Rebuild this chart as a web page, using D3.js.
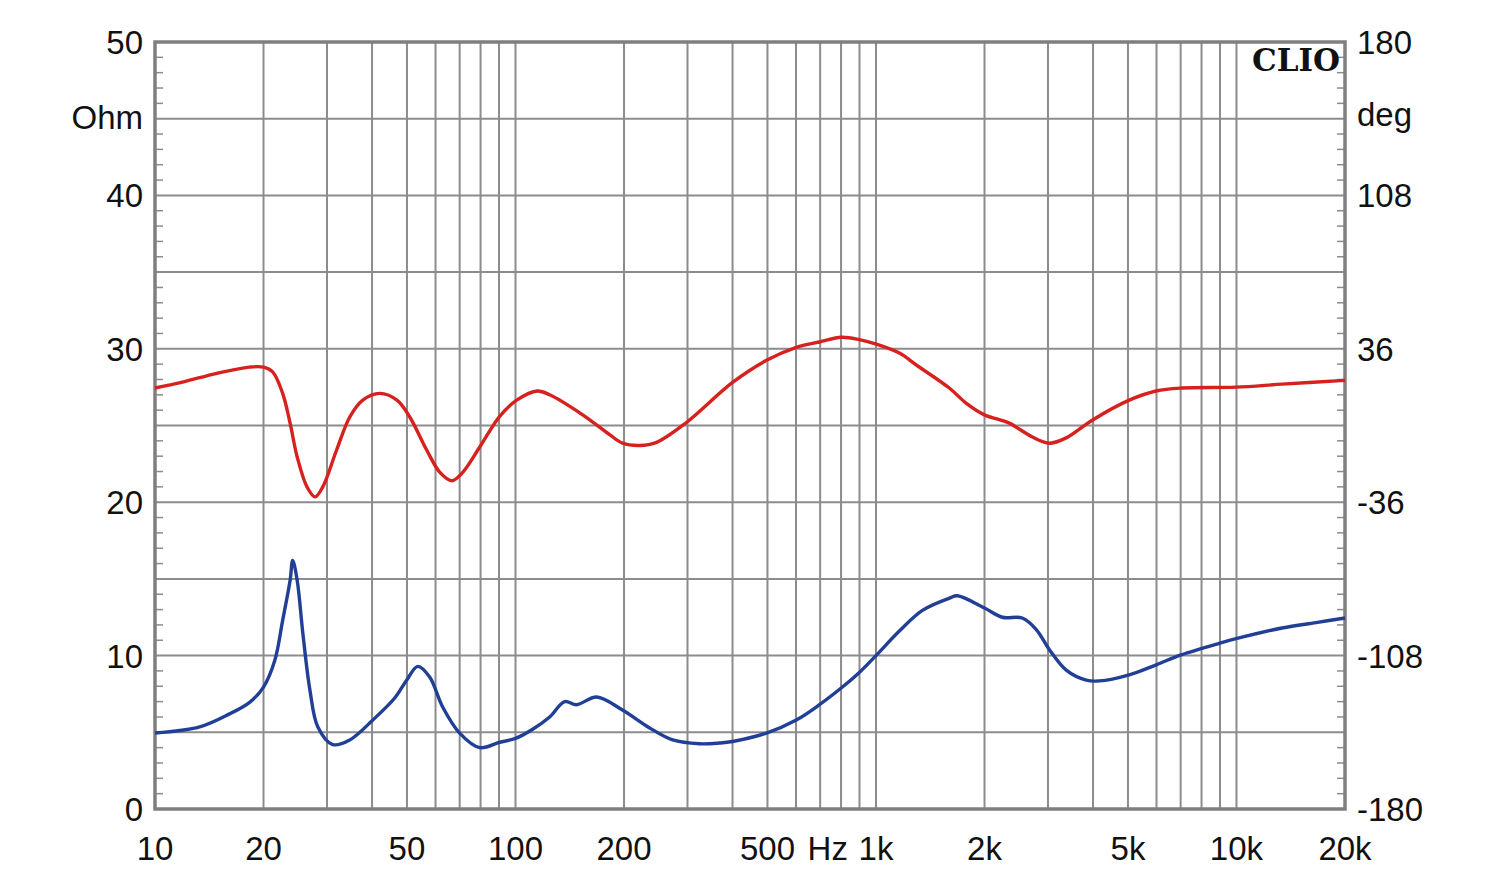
<!DOCTYPE html>
<html>
<head>
<meta charset="utf-8">
<script src="https://cdn.jsdelivr.net/npm/d3@7"></script>
<style>
  html, body { margin: 0; padding: 0; background: #fff; }
  svg { display: block; }
  text { font-family: "Liberation Sans", Arial, sans-serif; fill: #111; }
</style>
</head>
<body>
<svg id="chart" width="1500" height="883"></svg>
<script>
// ---- Data ----
const xTickValues = [10, 20, 50, 100, 200, 500, 1000, 2000, 5000, 10000, 20000];
const xTickLabels = ["10", "20", "50", "100", "200", "500", "1k", "2k", "5k", "10k", "20k"];
const leftTickValues = [0, 10, 20, 30, 40, 50];
const rightTickValues = [-180, -108, -36, 36, 108, 180];

// Impedance magnitude (Ohm) — blue
const impFreq = [10, 13.3, 16.1, 18.3, 20, 21.5, 22.6, 23.7, 24.1, 24.8, 25.7, 26.9, 28.3, 31.1, 34.7, 40.2, 46.3, 49.9, 53.6, 57.8, 62.8, 70, 79.6, 90.4, 100, 111.6, 124.4, 136.9, 147.7, 168, 198, 235, 273, 324, 368, 400, 497, 601, 697, 807, 899, 1000, 1161, 1345, 1600, 1681, 2000, 2240, 2545, 2784, 3024, 3371, 3830, 4161, 5040, 5987, 7023, 8949, 9975, 13380, 16620, 20000];
const impOhm  = [4.95, 5.35, 6.2, 6.95, 7.95, 9.7, 12.3, 14.9, 16.2, 14.9, 11.5, 7.75, 5.35, 4.2, 4.5, 5.8, 7.25, 8.4, 9.3, 8.6, 6.65, 4.95, 4.0, 4.35, 4.6, 5.2, 6.0, 7.0, 6.8, 7.3, 6.45, 5.3, 4.5, 4.25, 4.3, 4.4, 4.95, 5.8, 6.8, 7.95, 8.9, 10.0, 11.6, 12.95, 13.75, 13.9, 13.1, 12.5, 12.45, 11.7, 10.4, 9.05, 8.4, 8.35, 8.75, 9.4, 10.05, 10.8, 11.1, 11.8, 12.15, 12.45];

// Phase (deg) — red
const phFreq = [10, 12, 14.85, 18.3, 20, 21.2, 22.6, 23.7, 24.8, 26.4, 27.8, 29.2, 31.9, 34.7, 37.7, 42.0, 46.9, 50.9, 56.7, 61.7, 66.6, 71.4, 79.6, 90.4, 100.8, 115, 124.4, 153.6, 182.4, 198.2, 220.9, 246.3, 298, 400, 497, 601, 697, 802, 899, 1002, 1161, 1294, 1597, 1781, 2000, 2343, 2714, 3024, 3371, 3979, 5040, 5987, 7067, 9975, 13380, 20000];
const phDeg  = [17.6, 20.5, 24.5, 27.4, 27.4, 25.2, 15.1, 1.1, -14.8, -28.8, -33.5, -28.8, -11.5, 4.0, 11.9, 15.1, 11.9, 4.0, -11.5, -22.0, -25.9, -22.0, -10.1, 4.3, 11.9, 16.2, 14.4, 5.0, -4.3, -8.3, -9.4, -7.9, 1.4, 20.2, 30.6, 36.7, 39.2, 41.4, 40.3, 38.2, 34.0, 28.4, 17.6, 10.4, 5.0, 1.1, -5.4, -8.3, -5.8, 2.5, 11.9, 16.2, 17.6, 18.0, 19.4, 21.2];

// ---- Layout ----
const L = 155, R = 1345, T = 42, B = 809;
const svg = d3.select("#chart");

const x = d3.scaleLog().domain([10, 20000]).range([L, R]);
const yL = d3.scaleLinear().domain([0, 50]).range([B, T]);
const yR = d3.scaleLinear().domain([-180, 180]).range([B, T]);

const gridColor = "#8c8c8c";

// vertical grid lines: 20..90, 100..900, 1k..9k, 10k
const vGrid = [];
[10, 100, 1000, 10000].forEach(d => { for (let m = 1; m <= 9; m++) { const v = d * m; if (v > 10 && v < 20000) vGrid.push(v); } });
svg.append("g").selectAll("line").data(vGrid).join("line")
  .attr("x1", d => x(d)).attr("x2", d => x(d)).attr("y1", T).attr("y2", B)
  .attr("stroke", gridColor).attr("stroke-width", 2);

// horizontal grid lines every 5 Ohm
const hGrid = d3.range(5, 50, 5);
svg.append("g").selectAll("line").data(hGrid).join("line")
  .attr("x1", L).attr("x2", R).attr("y1", d => yL(d)).attr("y2", d => yL(d))
  .attr("stroke", gridColor).attr("stroke-width", 2);

// minor ticks every 1 Ohm on left and right borders (inside)
const minor = d3.range(1, 50).filter(d => d % 5 !== 0);
svg.append("g").selectAll("line").data(minor).join("line")
  .attr("x1", L).attr("x2", L + 8).attr("y1", d => yL(d)).attr("y2", d => yL(d))
  .attr("stroke", gridColor).attr("stroke-width", 1.5);
svg.append("g").selectAll("line").data(minor).join("line")
  .attr("x1", R - 8).attr("x2", R).attr("y1", d => yL(d)).attr("y2", d => yL(d))
  .attr("stroke", gridColor).attr("stroke-width", 1.5);

// frame
svg.append("rect").attr("x", L).attr("y", T).attr("width", R - L).attr("height", B - T)
  .attr("fill", "none").attr("stroke", "#7f7f7f").attr("stroke-width", 3.5);

// curves
const line = d3.line().curve(d3.curveCatmullRom.alpha(0.5));
const phasePts = phFreq.map((f, i) => [x(f), yR(phDeg[i])]);
const impPts = impFreq.map((f, i) => [x(f), yL(impOhm[i])]);

svg.append("path").attr("d", line(phasePts)).attr("fill", "none")
  .attr("stroke", "#d6211e").attr("stroke-width", 3.4).attr("stroke-linejoin", "round");
svg.append("path").attr("d", line(impPts)).attr("fill", "none")
  .attr("stroke", "#213f96").attr("stroke-width", 3.4).attr("stroke-linejoin", "round");

// axes labels
const fs = 33;
svg.append("g").selectAll("text").data(leftTickValues).join("text")
  .attr("x", 143).attr("y", d => yL(d) + 12).attr("text-anchor", "end")
  .attr("font-size", fs).text(d => d);
svg.append("g").selectAll("text").data(rightTickValues).join("text")
  .attr("x", 1357).attr("y", d => yR(d) + 12).attr("text-anchor", "start")
  .attr("font-size", fs).text(d => d);
svg.append("g").selectAll("text").data(xTickValues).join("text")
  .attr("x", d => x(d)).attr("y", 860).attr("text-anchor", "middle")
  .attr("font-size", fs).text((d, i) => xTickLabels[i]);

svg.append("text").attr("x", (x(500) + x(1000)) / 2 + 6).attr("y", 860)
  .attr("text-anchor", "middle").attr("font-size", fs).text("Hz");
svg.append("text").attr("x", 143).attr("y", yL(45) + 10).attr("text-anchor", "end")
  .attr("font-size", fs).text("Ohm");
svg.append("text").attr("x", 1357).attr("y", yL(45) + 7).attr("text-anchor", "start")
  .attr("font-size", fs).text("deg");

// CLIO logo
svg.append("text").attr("x", 1340).attr("y", 71).attr("text-anchor", "end")
  .style("font-family", "'DejaVu Serif', 'Liberation Serif', serif")
  .attr("font-weight", "bold").attr("font-size", 31).text("CLIO");
</script>
</body>
</html>
